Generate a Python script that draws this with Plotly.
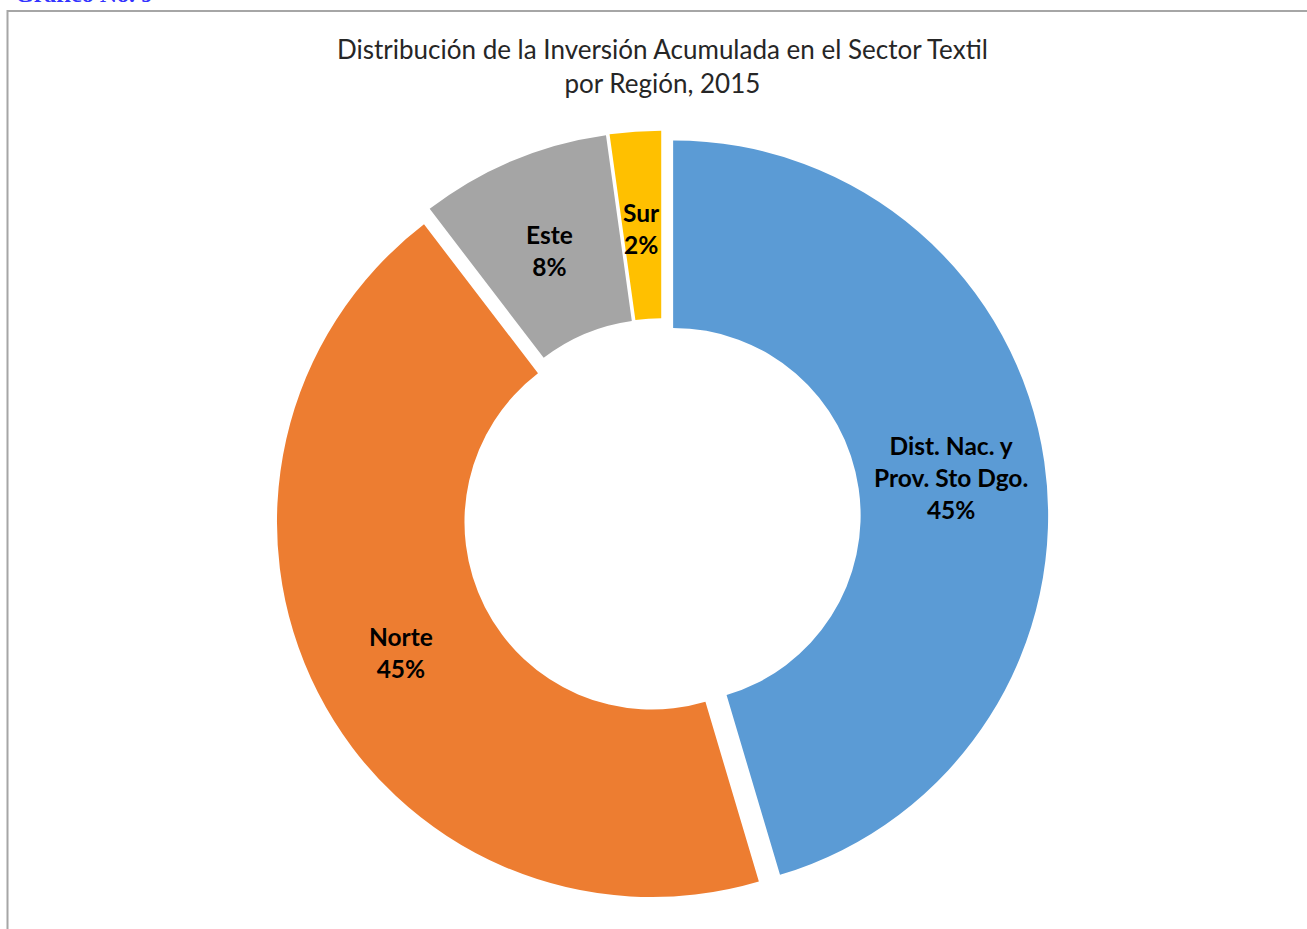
import math
import plotly.graph_objects as go

# Data
regions = ["Dist. Nac. y<br>Prov. Sto Dgo.", "Norte", "Este", "Sur"]
shares = [45.4, 44.2, 8.2, 2.2]
pct_labels = ["45%", "45%", "8%", "2%"]
colors = ["#5B9BD5", "#ED7D31", "#A5A5A5", "#FFC000"]

W, H = 1307, 929
PULL = 0.03
HOLE = 0.5
# Pie box in pixels
cx, cy = 662, 517
R = 375
box = R * (2 + 2 * PULL) / 2

fig = go.Figure()
fig.add_trace(go.Pie(
    labels=regions,
    values=shares,
    sort=False,
    direction="clockwise",
    rotation=0,
    hole=HOLE,
    pull=[PULL] * len(shares),
    marker=dict(colors=colors, line=dict(width=0)),
    textinfo="none",
    hoverinfo="label+percent",
    showlegend=False,
    domain=dict(x=[(cx - box) / W, (cx + box) / W],
                y=[1 - (cy + box) / H, 1 - (cy - box) / H]),
))

# Labels positioned from data (mid-angle of each slice)
total = sum(shares)
cum = 0.0
r_lab = (R + R * HOLE) / 2 + R * PULL
annotations = []
for name, v, p in zip(regions, shares, pct_labels):
    mid = (cum + v / 2) / total * 2 * math.pi
    cum += v
    px = cx + r_lab * math.sin(mid)
    py = cy - r_lab * math.cos(mid) + 3
    annotations.append(dict(
        x=px / W, y=1 - py / H, xref="paper", yref="paper",
        text=f"<b>{name}<br>{p}</b>", showarrow=False,
        font=dict(family="Lato, Carlito, sans-serif", size=24.5, color="black"),
        align="center", xanchor="center", yanchor="middle",
    ))

annotations.append(dict(
    x=cx / W, y=1 - 66 / H, xref="paper", yref="paper",
    text="Distribución de la Inversión Acumulada en el Sector Textil<br>por Región, 2015",
    showarrow=False, align="center", xanchor="center", yanchor="middle",
    font=dict(family="Lato, Carlito, sans-serif", size=26, color="#262626"),
))
annotations.append(dict(
    x=13 / W, y=1 - 9 / H, xref="paper", yref="paper",
    text="<b>Gráfico No. 9</b>", showarrow=False,
    xanchor="left", yanchor="bottom",
    font=dict(family="Liberation Serif, serif", size=24, color="#3333FF"),
))

fig.update_layout(
    width=W, height=H,
    margin=dict(l=0, r=0, t=0, b=0),
    paper_bgcolor="white",
    plot_bgcolor="white",
    annotations=annotations,
    shapes=[dict(type="rect", xref="paper", yref="paper",
                 x0=7.5 / W, x1=1.05, y0=-0.05, y1=1 - 11 / H,
                 line=dict(color="#A6A6A6", width=2), fillcolor="rgba(0,0,0,0)")],
)

fig.write_html("out.html",
               config={"displayModeBar": False},
               post_script="document.body.style.margin='0';document.body.style.overflow='hidden';")
